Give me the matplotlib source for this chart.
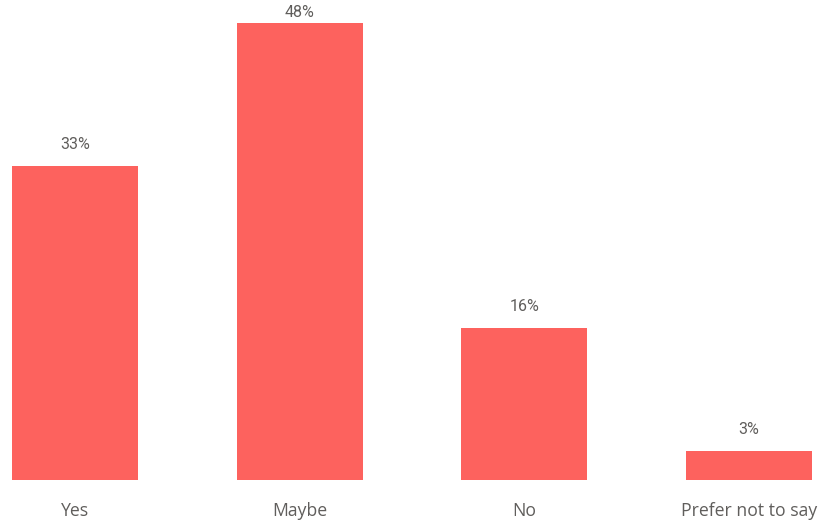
import matplotlib
matplotlib.use("Agg")
import matplotlib.pyplot as plt

# -----------------------------
# data
# -----------------------------
categories = ["Yes", "Maybe", "No", "Prefer not to say"]
shares = [33, 48, 16, 3]
value_labels = ["33%", "48%", "16%", "3%"]

bar_color = "#FD625E"
text_color = "#605E5C"

W, H, DPI = 826, 524, 100
fig = plt.figure(figsize=(W / DPI, H / DPI), dpi=DPI)
fig.patch.set_facecolor("white")

# plot area: baseline sits 44 px above the bottom edge
ax = fig.add_axes([0, 44 / H, 1, (H - 44) / H])

x = list(range(len(categories)))
ax.bar(x, shares, width=0.56, color=bar_color, edgecolor="none")

px_per_unit = 224.67
px_per_pct = 9.52
ax.set_xlim(-75 / px_per_unit, 3 + 77 / px_per_unit)
ax.set_ylim(0, (H - 44) / px_per_pct)

# value labels above bars, held down so the tallest one still fits
label_cap = (H - 44 - 20) / px_per_pct
for xi, v, lab in zip(x, shares, value_labels):
    y = min(v + 14 / px_per_pct, label_cap)
    ax.text(xi, y, lab, ha="center", va="bottom",
            fontsize=11.5, color=text_color, family="Roboto")

for s in ax.spines.values():
    s.set_visible(False)
ax.set_yticks([])
ax.set_xticks(x)
ax.set_xticklabels(categories, fontsize=12.7, color=text_color, family="Open Sans")
ax.tick_params(axis="x", length=0, pad=16)

fig.savefig("out.png", dpi=DPI, facecolor="white")
plt.close(fig)
